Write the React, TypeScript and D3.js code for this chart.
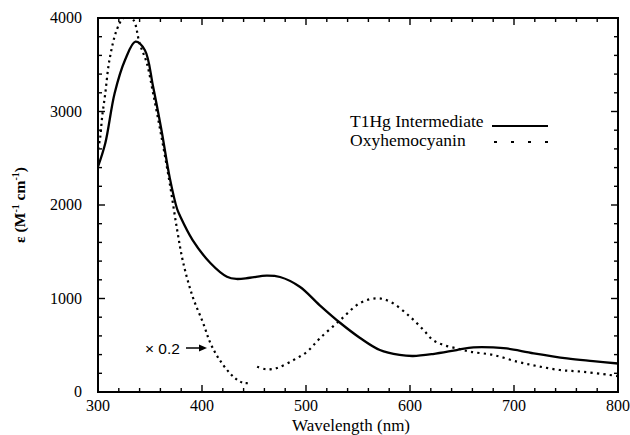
import React from "react";
import * as d3 from "d3";

const xTicks = [300, 400, 500, 600, 700, 800];
const yTicks = [0, 1000, 2000, 3000, 4000];

const wlT1Hg = [300, 307, 316, 326, 336, 345, 353, 361, 369, 376, 379, 391, 408, 424, 433, 446, 462, 475, 494, 513, 533, 552, 571, 590, 603, 622, 645, 661, 680, 693, 719, 751, 776, 800];
const epsT1Hg = [2410, 2660, 3195, 3551, 3747, 3658, 3265, 2802, 2290, 1960, 1880, 1625, 1380, 1233, 1209, 1222, 1244, 1230, 1126, 930, 738, 578, 449, 396, 385, 406, 449, 478, 478, 466, 414, 360, 331, 305];

const wlOxyUV = [300, 302, 304, 307, 311, 318, 324, 328, 334, 340, 347, 353, 361, 369, 376, 382, 391, 401, 408, 417, 430, 439, 444];
const epsOxyUV = [2600, 2713, 2944, 3195, 3551, 3872, 3996, 4010, 3979, 3729, 3515, 3195, 2731, 2230, 1740, 1380, 1020, 740, 525, 342, 165, 100, 95];

const wlOxyVis = [453, 462, 472, 488, 501, 513, 533, 552, 568, 581, 600, 613, 622, 632, 645, 658, 680, 703, 722, 744, 766, 792, 800];
const epsOxyVis = [271, 242, 256, 342, 431, 570, 770, 952, 1002, 966, 805, 663, 556, 503, 466, 431, 396, 324, 278, 235, 217, 182, 170];

const legendLabels = ["T1Hg Intermediate", "Oxyhemocyanin"];

const W = 630, H = 435;
const L = 98, R = 618, T = 18, B = 392;
const serif = "'Liberation Serif', 'DejaVu Serif', serif";
const sans = "'Liberation Sans', Arial, sans-serif";

export default function App() {
  const x = d3.scaleLinear().domain([300, 800]).range([L, R]);
  const y = d3.scaleLinear().domain([0, 4000]).range([B, T]);
  const line = d3
    .line<[number, number]>()
    .x((d) => x(d[0]))
    .y((d) => y(d[1]))
    .curve(d3.curveCatmullRom.alpha(0.5));
  const zip = (a: number[], b: number[]) => a.map((v, i) => [v, b[i]] as [number, number]);

  const xMinor = d3.range(300, 801, 20);
  const yMinor = d3.range(0, 4001, 200);

  return (
    <svg width={W} height={H} style={{ position: "absolute", left: 0, top: 0, background: "#fff" }}>
      <defs>
        <clipPath id="plot">
          <rect x={L} y={T} width={R - L} height={B - T} />
        </clipPath>
      </defs>
      <g clipPath="url(#plot)" fill="none" stroke="#000">
        <path d={line(zip(wlT1Hg, epsT1Hg)) || ""} strokeWidth={2.3} />
        <path d={line(zip(wlOxyUV, epsOxyUV)) || ""} strokeWidth={2.2} strokeDasharray="2.2 3.6" />
        <path d={line(zip(wlOxyVis, epsOxyVis)) || ""} strokeWidth={2.2} strokeDasharray="2.2 4.2" />
      </g>
      {/* ticks */}
      <g stroke="#000" strokeWidth={1.4}>
        {xMinor.map((v) => {
          const len = v % 100 === 0 ? 7 : 4;
          return (
            <g key={"x" + v}>
              <line x1={x(v)} x2={x(v)} y1={B} y2={B - len} />
              <line x1={x(v)} x2={x(v)} y1={T} y2={T + len} />
            </g>
          );
        })}
        {yMinor.map((v) => {
          const len = v % 1000 === 0 ? 7 : 4;
          return (
            <g key={"y" + v}>
              <line x1={L} x2={L + len} y1={y(v)} y2={y(v)} />
              <line x1={R} x2={R - len} y1={y(v)} y2={y(v)} />
            </g>
          );
        })}
      </g>
      <rect x={L} y={T} width={R - L} height={B - T} fill="none" stroke="#000" strokeWidth={2} />
      {/* tick labels */}
      <g fontFamily={serif} fontSize={16} fill="#000">
        {xTicks.map((v) => (
          <text key={"xl" + v} x={x(v)} y={411} textAnchor="middle">
            {v}
          </text>
        ))}
        {yTicks.map((v) => (
          <text key={"yl" + v} x={82} y={y(v) + 5} textAnchor="end">
            {v}
          </text>
        ))}
      </g>
      <text x={351} y={430.5} textAnchor="middle" fontFamily={serif} fontSize={17} fill="#000">
        Wavelength (nm)
      </text>
      <text
        transform={`translate(25, ${(T + B) / 2}) rotate(-90)`}
        textAnchor="middle"
        fontFamily={serif}
        fontSize={15.5}
        fontWeight="bold"
        fill="#000"
      >
        ε (M
        <tspan dy={-6} fontSize={10}>-1</tspan>
        <tspan dy={6}> cm</tspan>
        <tspan dy={-6} fontSize={10}>-1</tspan>
        <tspan dy={6}>)</tspan>
      </text>
      {/* legend */}
      <g fontFamily={serif} fontSize={17.5} fill="#000">
        <text x={350} y={127}>{legendLabels[0]}</text>
        <text x={350} y={146}>{legendLabels[1]}</text>
      </g>
      <line x1={492} x2={548} y1={126} y2={126} stroke="#000" strokeWidth={2} />
      <line x1={494} x2={548} y1={142} y2={142} stroke="#000" strokeWidth={2.2} strokeDasharray="3 14" />
      {/* annotation */}
      <text x={145} y={354} fontFamily={sans} fontSize={15.5} fill="#000">
        × 0.2
      </text>
      <line x1={186} x2={200} y1={348} y2={348} stroke="#000" strokeWidth={1.5} />
      <path d="M199,344.5 L207,348 L199,351.5 Z" fill="#000" />
    </svg>
  );
}
